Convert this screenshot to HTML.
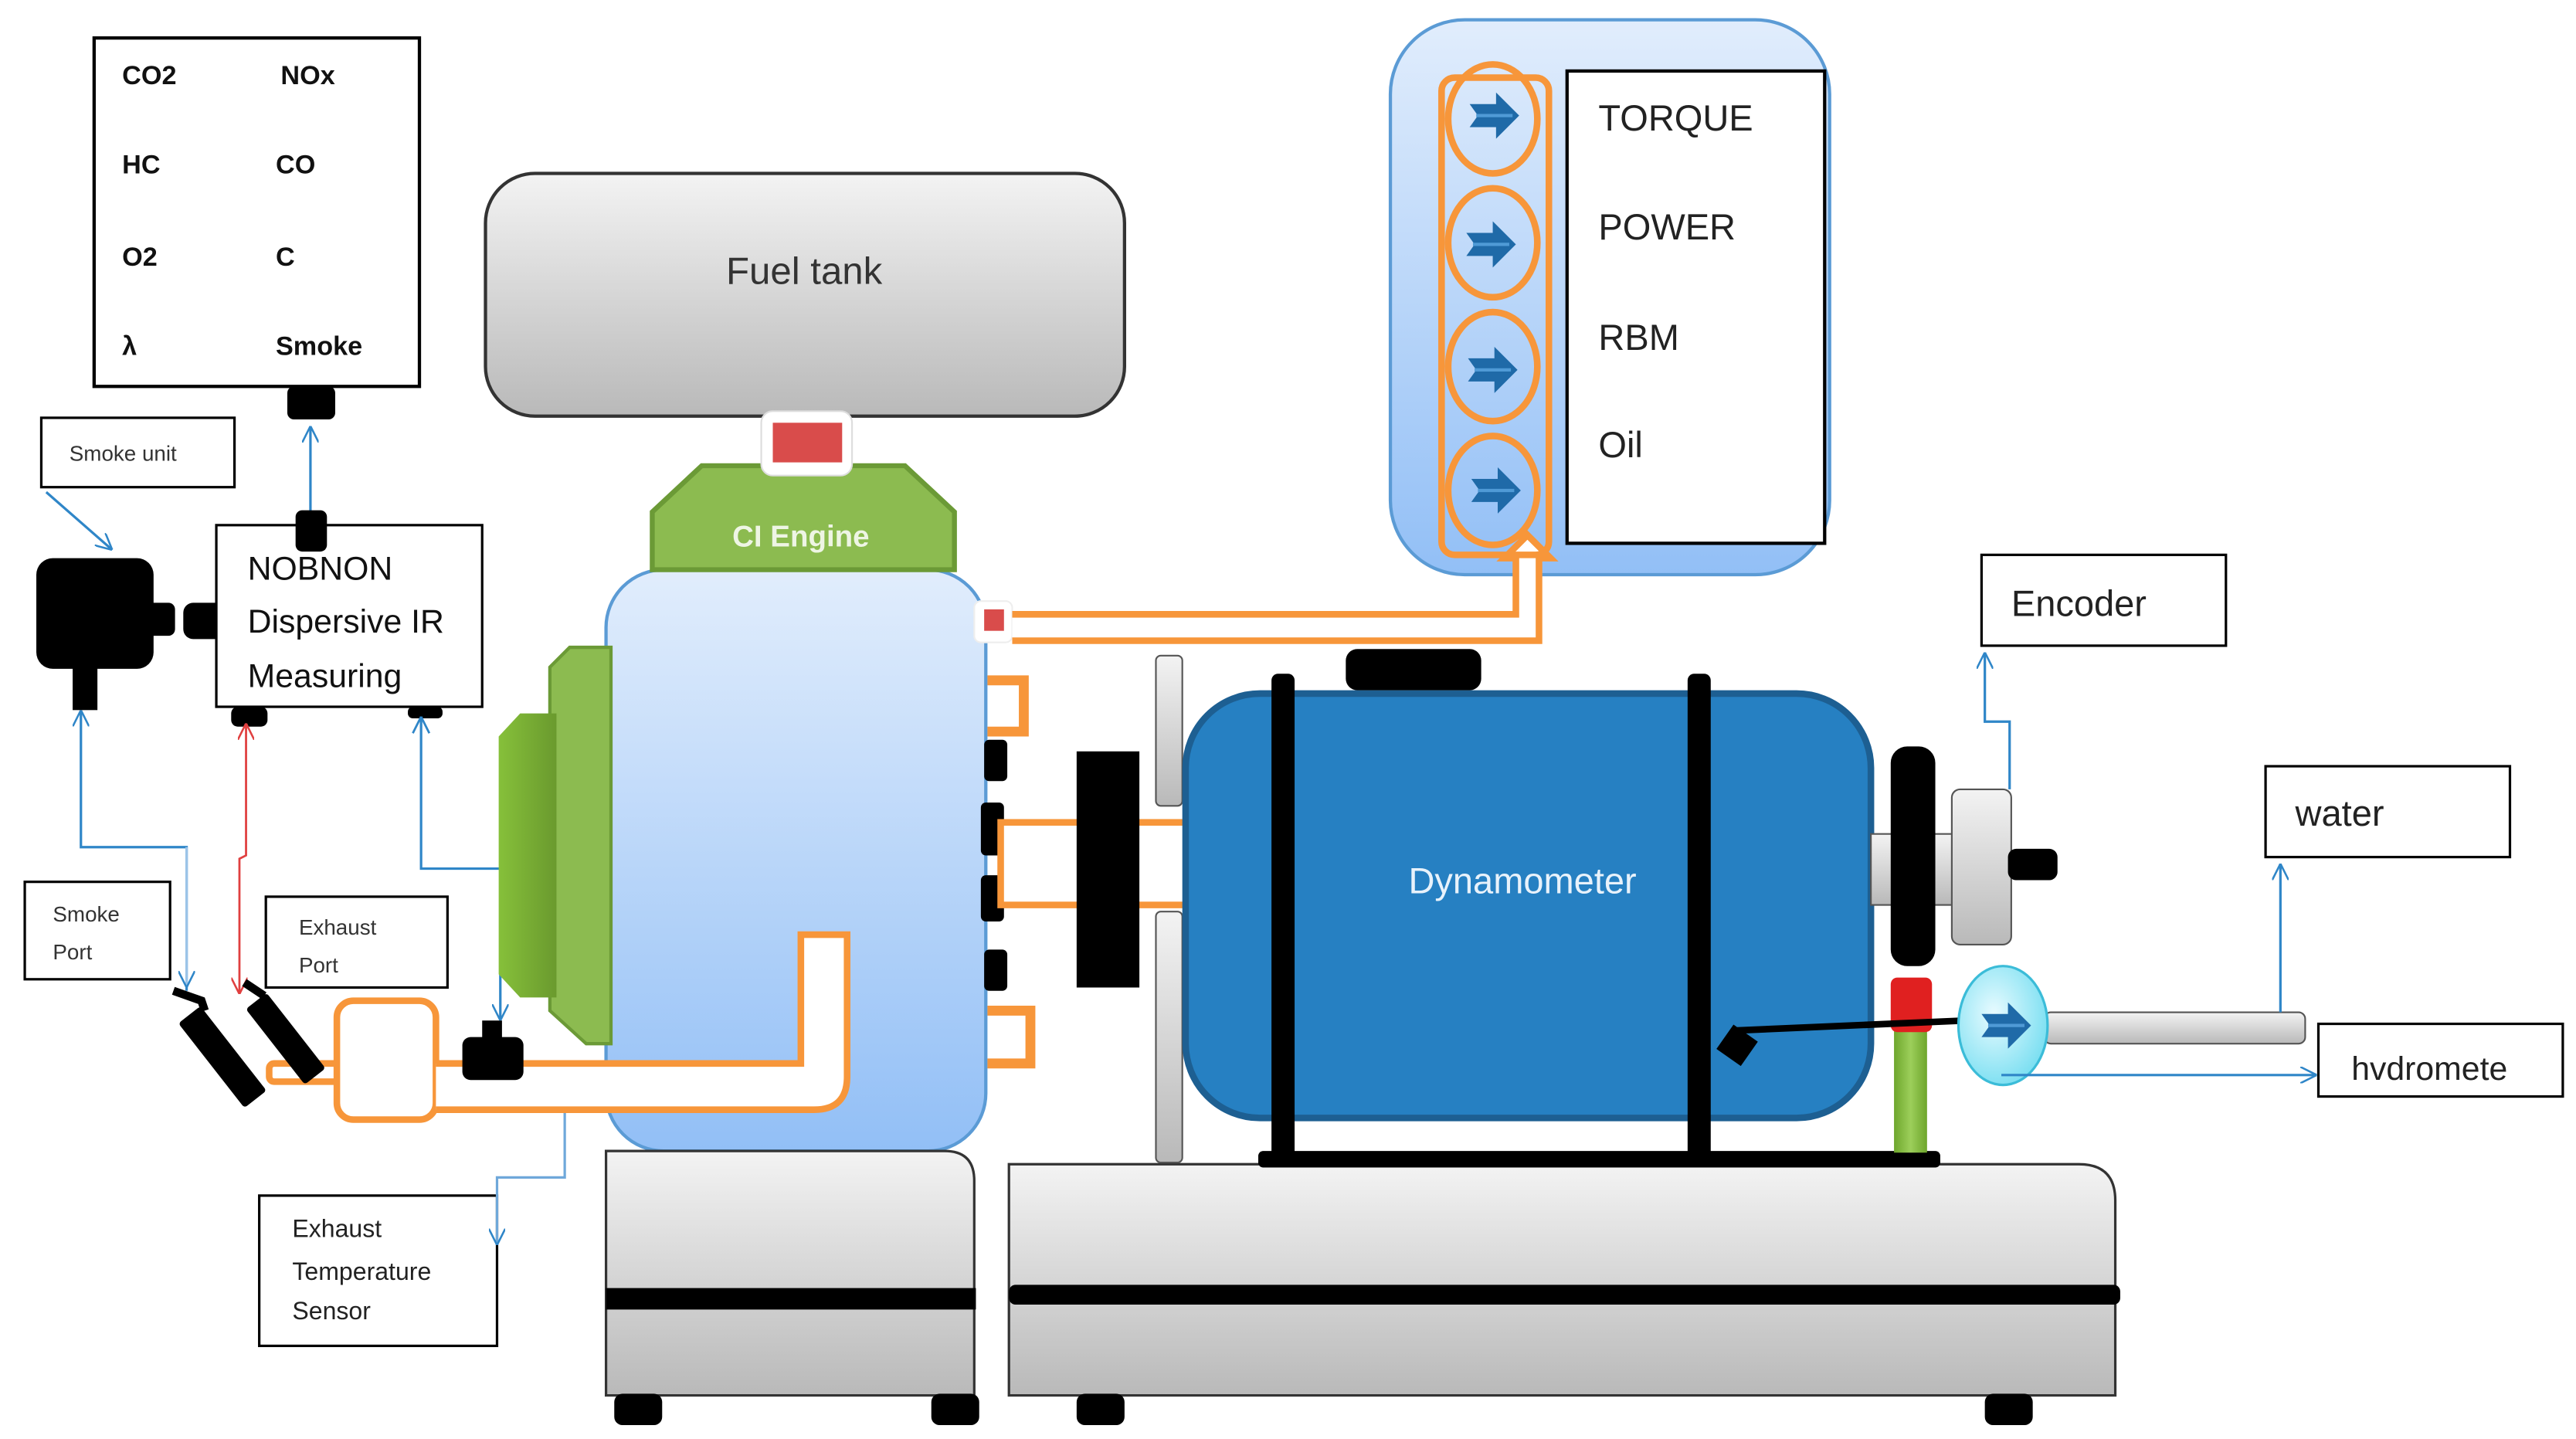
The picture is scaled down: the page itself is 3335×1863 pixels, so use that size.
<!DOCTYPE html>
<html><head><meta charset="utf-8"><style>
html,body{margin:0;padding:0;background:#fff}
svg{display:block}
text{font-family:"Liberation Sans","DejaVu Sans",sans-serif}
</style></head><body>
<svg width="3335" height="1863" viewBox="0 0 1560 871.4" preserveAspectRatio="none" xmlns="http://www.w3.org/2000/svg">
<defs>
<linearGradient id="gray" x1="0" y1="0" x2="0" y2="1"><stop offset="0" stop-color="#f3f3f3"/><stop offset="1" stop-color="#b9b9b9"/></linearGradient>
<linearGradient id="blue" x1="0" y1="0" x2="0" y2="1"><stop offset="0" stop-color="#e1edfc"/><stop offset="1" stop-color="#92bff6"/></linearGradient>
<linearGradient id="grn" x1="0" y1="0" x2="1" y2="0"><stop offset="0" stop-color="#86c03a"/><stop offset="1" stop-color="#6a9a2e"/></linearGradient>
<linearGradient id="pillar" x1="0" y1="0" x2="1" y2="0"><stop offset="0" stop-color="#6ea52c"/><stop offset="0.5" stop-color="#9ccf5a"/><stop offset="1" stop-color="#6ea52c"/></linearGradient>
<radialGradient id="cyan" cx="0.4" cy="0.4" r="0.7"><stop offset="0" stop-color="#e8fbff"/><stop offset="1" stop-color="#6fdcf0"/></radialGradient>
<marker id="av" viewBox="0 0 10 10" refX="10" refY="5" markerWidth="10" markerHeight="10" markerUnits="userSpaceOnUse" orient="auto"><path d="M0,0 L10,5 L0,10" fill="none" stroke="#2f86c8" stroke-width="1.2"/></marker>
<marker id="avr" viewBox="0 0 10 10" refX="10" refY="5" markerWidth="10" markerHeight="10" markerUnits="userSpaceOnUse" orient="auto"><path d="M0,0 L10,5 L0,10" fill="none" stroke="#e04040" stroke-width="1.2"/></marker>
<marker id="avrs" viewBox="0 0 10 10" refX="10" refY="5" markerWidth="10" markerHeight="10" markerUnits="userSpaceOnUse" orient="auto-start-reverse"><path d="M0,0 L10,5 L0,10" fill="none" stroke="#e04040" stroke-width="1.2"/></marker>
<g id="barrow"><path d="M-14,-7 L2,-7 L2,-14 L16,0 L2,14 L2,7 L-14,7 L-9,0 Z" fill="#1f6aa8"/><path d="M-10,0 L12,0" stroke="#4f9ad6" stroke-width="2"/></g>
</defs>

<!-- Gas box -->
<rect x="57" y="23" width="197" height="211" fill="#fff" stroke="#000" stroke-width="2"/>
<g font-size="16" font-weight="bold" fill="#111">
<text x="74" y="51">CO2</text><text x="170" y="51">NOx</text>
<text x="74" y="105">HC</text><text x="167" y="105">CO</text>
<text x="74" y="161">O2</text><text x="167" y="161">C</text>
<text x="74" y="215">λ</text><text x="167" y="215">Smoke</text>
</g>
<rect x="174" y="234" width="29" height="20" rx="4" fill="#000"/>
<line x1="188" y1="312" x2="188" y2="258" stroke="#2f86c8" stroke-width="1.5" marker-end="url(#av)"/>

<!-- Smoke unit -->
<rect x="25" y="253" width="117" height="42" fill="#fff" stroke="#000" stroke-width="1.5"/>
<text x="42" y="279" font-size="13" fill="#333">Smoke unit</text>
<line x1="28" y1="298" x2="68" y2="333" stroke="#2f86c8" stroke-width="1.5" marker-end="url(#av)"/>
<rect x="22" y="338" width="71" height="67" rx="10" fill="#000"/>
<rect x="88" y="365" width="18" height="20" rx="4" fill="#000"/>
<rect x="44" y="400" width="15" height="30" fill="#000"/>
<rect x="111" y="365" width="32" height="22" rx="6" fill="#000"/>

<!-- NOBNON -->
<rect x="131" y="318" width="161" height="110" fill="#fff" stroke="#000" stroke-width="1.5"/>
<rect x="179" y="309" width="19" height="25" rx="4" fill="#000"/>
<text x="150" y="351" font-size="20" fill="#111">NOBNON</text>
<text x="150" y="383" font-size="20" fill="#111">Dispersive IR</text>
<text x="150" y="416" font-size="20" fill="#111">Measuring</text>
<rect x="140" y="428" width="22" height="12" rx="4" fill="#000"/>
<rect x="247" y="428" width="21" height="7" rx="3" fill="#000"/>

<!-- connectors left -->
<path d="M113,600 L113,513 L49,513 L49,430" fill="none" stroke="#2f86c8" stroke-width="1.5" marker-end="url(#av)"/>
<path d="M113,513 L113,598" fill="none" stroke="#9cc4e8" stroke-width="1.5" marker-end="url(#av)"/>
<path d="M149,438 L149,518 L145,520 L145,602" fill="none" stroke="#e04040" stroke-width="1.3" marker-start="url(#avrs)" marker-end="url(#avr)"/>
<path d="M255,434 L255,526 L303,526 L303,618" fill="none" stroke="#2f86c8" stroke-width="1.5" marker-end="url(#av)"/>
<path d="M255,434 l-5,10 M255,434 l5,10" stroke="#2f86c8" stroke-width="1.3"/>

<!-- Smoke port / exhaust port -->
<rect x="15" y="534" width="88" height="59" fill="#fff" stroke="#000" stroke-width="1.5"/>
<text x="32" y="558" font-size="13" fill="#333">Smoke</text><text x="32" y="581" font-size="13" fill="#333">Port</text>
<rect x="161" y="543" width="110" height="55" fill="#fff" stroke="#000" stroke-width="1.5"/>
<text x="181" y="566" font-size="13" fill="#333">Exhaust</text><text x="181" y="589" font-size="13" fill="#333">Port</text>

<!-- Exhaust temp sensor -->
<rect x="157" y="724" width="144" height="91" fill="#fff" stroke="#000" stroke-width="1.5"/>
<text x="177" y="749" font-size="15" fill="#222">Exhaust</text>
<text x="177" y="775" font-size="15" fill="#222">Temperature</text>
<text x="177" y="799" font-size="15" fill="#222">Sensor</text>
<path d="M342,672 L342,713 L301,713 L301,754" fill="none" stroke="#6fa8da" stroke-width="1.5" marker-end="url(#av)"/>

<!-- Fuel tank -->
<rect x="294" y="105" width="387" height="147" rx="30" fill="url(#gray)" stroke="#333" stroke-width="2"/>
<text x="487" y="172" font-size="23" text-anchor="middle" fill="#333">Fuel tank</text>

<!-- Engine -->
<rect x="367" y="345" width="230" height="352" rx="35" fill="url(#blue)" stroke="#5b9bd5" stroke-width="2"/>
<polygon points="395,345 395,310 425,282 548,282 578,310 578,345" fill="#8cbb50" stroke="#6b9a36" stroke-width="3"/>
<text x="485" y="331" font-size="18" font-weight="bold" text-anchor="middle" fill="#eef5e4">CI Engine</text>
<rect x="461" y="249" width="55" height="39" rx="7" fill="#fff" stroke="#ddd"/>
<rect x="468" y="256" width="42" height="24" fill="#d94c4b"/>
<polygon points="345,392 370,392 370,632 355,632 333,612 333,404" fill="#8cbb50" stroke="#6b9a36" stroke-width="2"/>
<polygon points="315,432 337,432 337,604 315,604 302,590 302,446" fill="url(#grn)"/>

<!-- Exhaust pipes (over engine) -->
<rect x="163" y="644" width="50" height="11" rx="3" fill="#fff" stroke="#f7963a" stroke-width="4"/>
<rect x="204" y="606" width="60" height="72" rx="10" fill="#fff" stroke="#f7963a" stroke-width="4"/>
<path d="M264,644 L485,644 L485,566 L513,566 L513,652 Q513,672 493,672 L264,672" fill="#fff" stroke="#f7963a" stroke-width="4"/>
<g fill="#000">
<rect x="126" y="608" width="17" height="65" rx="2" transform="rotate(-38 134 640)"/>
<rect x="165" y="600" width="16" height="58" rx="2" transform="rotate(-38 173 629)"/>
<path d="M105,600 L122,606 L124,612" stroke="#000" stroke-width="5" fill="none"/>
<path d="M148,595 L160,603" stroke="#000" stroke-width="5"/>
<rect x="280" y="628" width="37" height="26" rx="5"/><rect x="292" y="618" width="12" height="14"/>
</g>

<!-- Engine base -->
<path d="M367,697 L572,697 Q590,697 590,715 L590,845 L367,845 Z" fill="url(#gray)" stroke="#333" stroke-width="1.5"/>
<rect x="367" y="780" width="224" height="13" fill="#000"/>
<rect x="372" y="844" width="29" height="19" rx="5" fill="#000"/>
<rect x="564" y="844" width="29" height="19" rx="5" fill="#000"/>

<!-- Dyno base -->
<path d="M611,705 L1259,705 Q1281,705 1281,727 L1281,845 L611,845 Z" fill="url(#gray)" stroke="#333" stroke-width="1.5"/>
<rect x="611" y="778" width="673" height="12" rx="4" fill="#000"/>
<rect x="652" y="844" width="29" height="19" rx="5" fill="#000"/>
<rect x="1202" y="844" width="29" height="19" rx="5" fill="#000"/>

<!-- Readouts -->
<rect x="842" y="12" width="266" height="336" rx="45" fill="url(#blue)" stroke="#5b9bd5" stroke-width="2"/>
<rect x="949" y="43" width="156" height="286" fill="#fff" stroke="#000" stroke-width="2"/>
<text x="968" y="79" font-size="22" fill="#222">TORQUE</text>
<text x="968" y="145" font-size="22" fill="#222">POWER</text>
<text x="968" y="212" font-size="22" fill="#222">RBM</text>
<text x="968" y="277" font-size="22" fill="#222">Oil</text>

<!-- Engine right details -->
<rect x="590" y="364" width="23" height="25" rx="4" fill="#fff" stroke="#eee"/>
<rect x="596" y="369" width="12" height="13" fill="#d94c4b"/>
<path d="M613,372 L918,372 L918,338 L911,338 L925,324 L939,338 L932,338 L932,388 L613,388" fill="#fff" stroke="#f7963a" stroke-width="4"/>
<rect x="873" y="47" width="65" height="289" rx="8" fill="none" stroke="#f7963a" stroke-width="4"/>
<g fill="none" stroke="#f7963a" stroke-width="4">
<ellipse cx="904" cy="72" rx="27" ry="33"/>
<ellipse cx="904" cy="147" rx="27" ry="33"/>
<ellipse cx="904" cy="222" rx="27" ry="33"/>
<ellipse cx="904" cy="297" rx="27" ry="33"/>
</g>
<use href="#barrow" x="904" y="70"/>
<use href="#barrow" x="902" y="148"/>
<use href="#barrow" x="903" y="224"/>
<use href="#barrow" x="905" y="297"/>

<path d="M598,412 L620,412 L620,443 L598,443" fill="none" stroke="#f7963a" stroke-width="6"/>
<path d="M598,612 L624,612 L624,644 L598,644" fill="none" stroke="#f7963a" stroke-width="6"/>
<g fill="#000">
<rect x="596" y="448" width="14" height="25" rx="3"/>
<rect x="594" y="486" width="14" height="32" rx="3"/>
<rect x="594" y="530" width="14" height="28" rx="3"/>
<rect x="596" y="575" width="14" height="25" rx="3"/>
</g>
<rect x="606" y="498" width="117" height="50" fill="#fff" stroke="#f7963a" stroke-width="4"/>
<rect x="652" y="455" width="38" height="143" fill="#000"/>
<rect x="700" y="397" width="16" height="91" rx="3" fill="url(#gray)" stroke="#555"/>
<rect x="700" y="552" width="16" height="152" rx="3" fill="url(#gray)" stroke="#555"/>

<!-- Dynamometer -->
<rect x="718" y="420" width="415" height="257" rx="45" fill="#2680c2" stroke="#1d5f92" stroke-width="4"/>
<text x="922" y="541" font-size="22" text-anchor="middle" fill="#e8f2fb">Dynamometer</text>
<rect x="815" y="393" width="82" height="25" rx="7" fill="#000"/>
<rect x="770" y="408" width="14" height="294" rx="4" fill="#000"/>
<rect x="1022" y="408" width="14" height="294" rx="4" fill="#000"/>
<rect x="762" y="697" width="413" height="10" rx="3" fill="#000"/>

<!-- right side -->
<rect x="1133" y="505" width="57" height="43" fill="url(#gray)" stroke="#555"/>
<rect x="1145" y="452" width="27" height="133" rx="10" fill="#000"/>
<rect x="1182" y="478" width="36" height="94" rx="5" fill="url(#gray)" stroke="#555"/>
<rect x="1216" y="514" width="30" height="19" rx="5" fill="#000"/>
<rect x="1147" y="622" width="20" height="76" fill="url(#pillar)"/>
<rect x="1145" y="592" width="25" height="33" rx="4" fill="#e02020"/>
<path d="M1052,624 L1190,618" stroke="#000" stroke-width="4"/>
<rect x="1043" y="624" width="18" height="18" fill="#000" transform="rotate(35 1052 633)"/>
<rect x="1238" y="613" width="158" height="19" rx="4" fill="url(#gray)" stroke="#555"/>
<ellipse cx="1213" cy="621" rx="27" ry="36" fill="url(#cyan)" stroke="#3bbcd8" stroke-width="1.5"/>
<use href="#barrow" x="1214" y="621"/>

<!-- Encoder -->
<rect x="1200" y="336" width="148" height="55" fill="#fff" stroke="#000" stroke-width="1.5"/>
<text x="1218" y="373" font-size="22" fill="#222">Encoder</text>
<path d="M1217,478 L1217,437 L1202,437 L1202,395" fill="none" stroke="#2f86c8" stroke-width="1.5" marker-end="url(#av)"/>

<!-- water -->
<rect x="1372" y="464" width="148" height="55" fill="#fff" stroke="#000" stroke-width="1.5"/>
<text x="1390" y="500" font-size="22" fill="#222">water</text>
<line x1="1381" y1="613" x2="1381" y2="523" stroke="#2f86c8" stroke-width="1.5" marker-end="url(#av)"/>

<!-- hydromete -->
<rect x="1404" y="620" width="148" height="44" fill="#fff" stroke="#000" stroke-width="1.5"/>
<text x="1424" y="654" font-size="20" fill="#222">hvdromete</text>
<line x1="1212" y1="651" x2="1403" y2="651" stroke="#2f86c8" stroke-width="1.5" marker-end="url(#av)"/>
</svg>
</body></html>
